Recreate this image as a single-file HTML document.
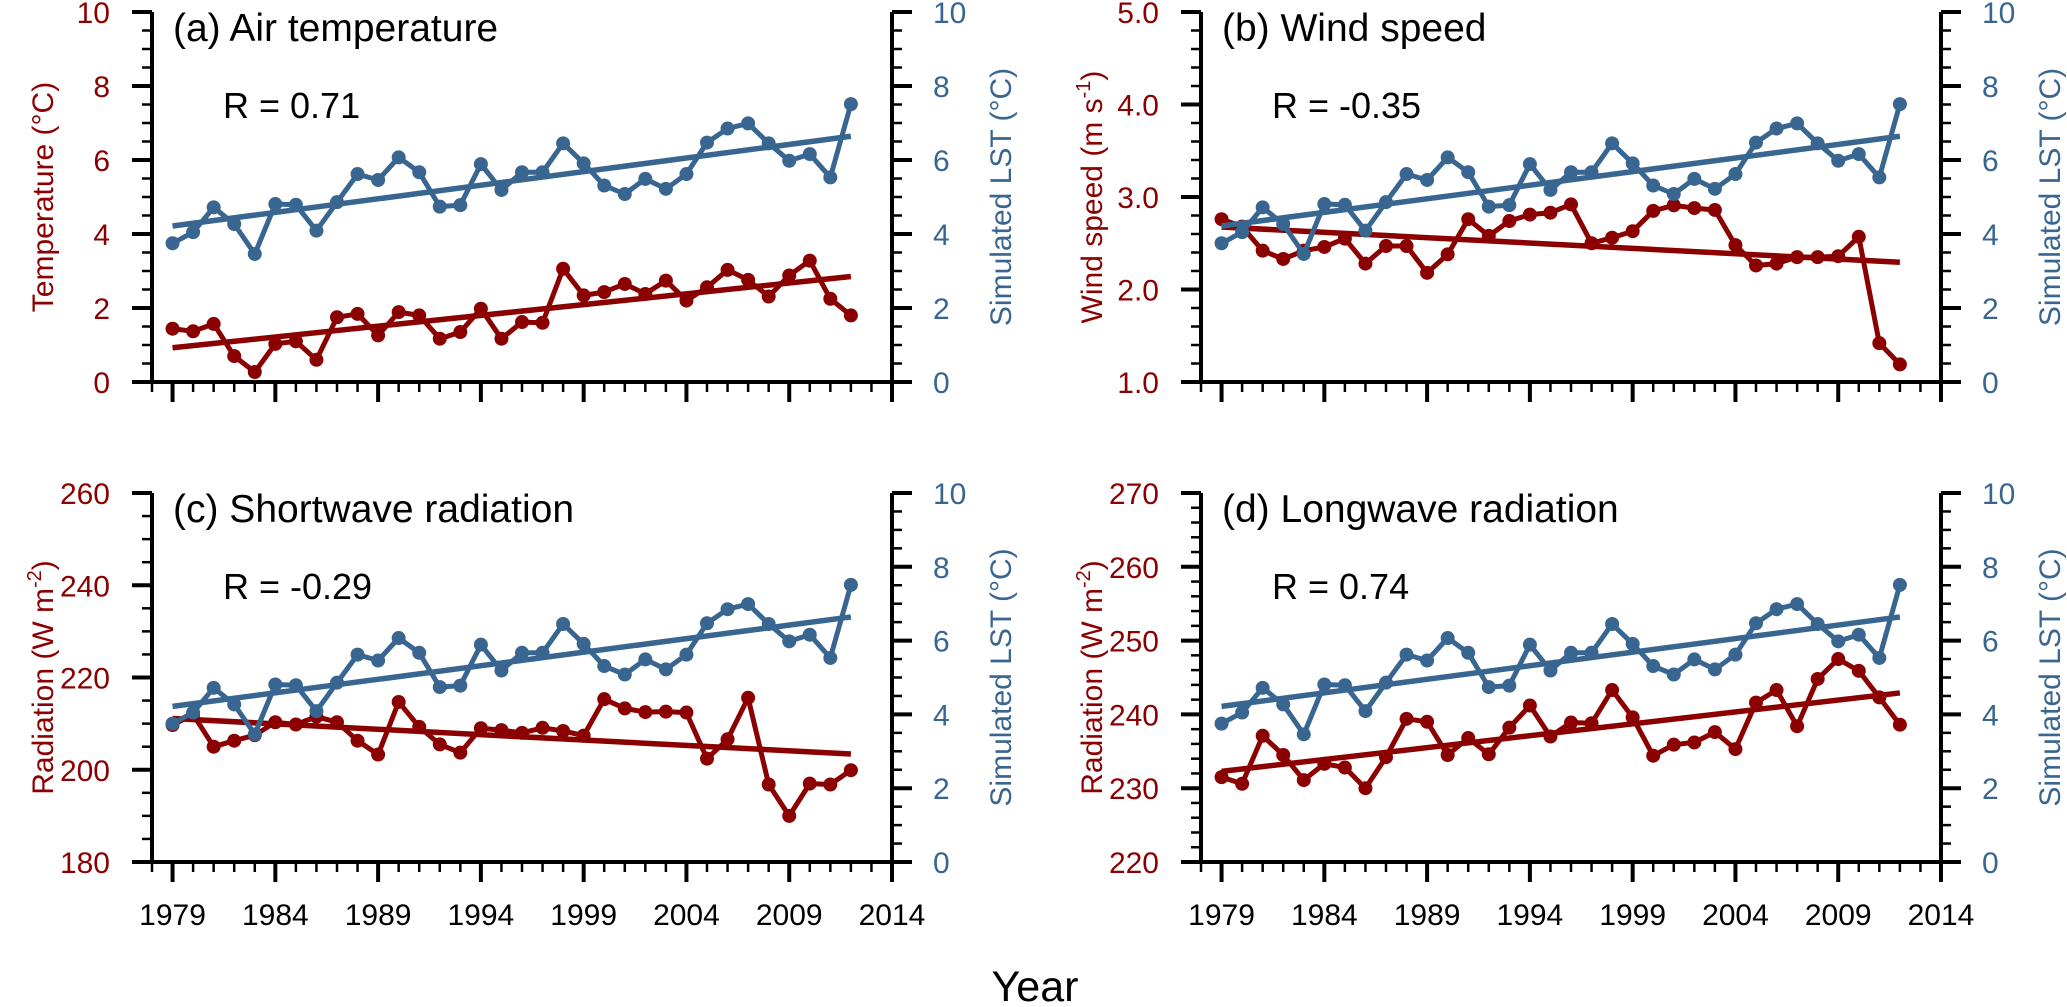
<!DOCTYPE html>
<html><head><meta charset="utf-8"><style>
html,body{margin:0;padding:0;background:#fff}
svg{display:block}
text{font-family:"Liberation Sans",sans-serif}
</style></head><body>
<svg id="fig" width="2067" height="1007" viewBox="0 0 2067 1007" xmlns="http://www.w3.org/2000/svg"></svg>
<script>
const years = [1979,1980,1981,1982,1983,1984,1985,1986,1987,1988,1989,1990,1991,1992,1993,1994,1995,1996,1997,1998,1999,2000,2001,2002,2003,2004,2005,2006,2007,2008,2009,2010,2011,2012];
const lstValues = [3.75,4.05,4.72,4.27,3.46,4.81,4.79,4.09,4.86,5.62,5.46,6.07,5.67,4.74,4.78,5.89,5.19,5.67,5.67,6.45,5.91,5.31,5.08,5.49,5.22,5.62,6.47,6.85,6.99,6.45,5.98,6.16,5.53,7.51];
const tempValues = [1.44,1.37,1.57,0.7,0.27,1.03,1.1,0.6,1.75,1.84,1.26,1.89,1.8,1.17,1.35,1.98,1.17,1.62,1.6,3.06,2.34,2.43,2.65,2.38,2.74,2.2,2.56,3.03,2.76,2.31,2.88,3.28,2.25,1.8];
const windValues = [2.76,2.68,2.42,2.33,2.42,2.46,2.55,2.28,2.47,2.47,2.18,2.38,2.76,2.58,2.74,2.81,2.83,2.92,2.5,2.56,2.63,2.85,2.91,2.88,2.86,2.48,2.26,2.28,2.35,2.35,2.36,2.57,1.42,1.19];
const swValues = [209.7,212,205,206.3,207.5,210.3,209.8,211.5,210.3,206.3,203.3,214.7,209.3,205.5,203.7,209,208.6,208,209.1,208.4,207.4,215.3,213.3,212.5,212.6,212.4,202.4,206.6,215.6,196.8,190,197,196.8,199.9];
const lwValues = [231.5,230.6,237.1,234.5,231.1,233.3,232.8,230,234.2,239.4,239,234.5,236.8,234.6,238.2,241.2,237,238.9,238.8,243.3,239.6,234.4,235.9,236.2,237.6,235.3,241.6,243.3,238.4,244.8,247.5,245.9,242.3,238.6];
const xTickLabels = ["1979","1984","1989","1994","1999","2004","2009","2014"];
const lstTickLabels = ["0","2","4","6","8","10"];
const tempTickLabels = ["0","2","4","6","8","10"];
const windTickLabels = ["1.0","2.0","3.0","4.0","5.0"];
const swTickLabels = ["180","200","220","240","260"];
const lwTickLabels = ["220","230","240","250","260","270"];
const rValues = ["0.71","-0.35","-0.29","0.74"];

const RED = "#8b0000", BLUE = "#386690";
const NS = "http://www.w3.org/2000/svg";
const svg = document.getElementById('fig');
function el(tag, attrs, parent){const e=document.createElementNS(NS,tag);for(const k in attrs)e.setAttribute(k,attrs[k]);(parent||svg).appendChild(e);return e;}
function txt(s, attrs, parent){const e=el('text',attrs,parent);e.textContent=s;return e;}
function fit(xs, ys){const n=xs.length;let mx=0,my=0;for(let i=0;i<n;i++){mx+=xs[i];my+=ys[i];}mx/=n;my/=n;let sxy=0,sxx=0;for(let i=0;i<n;i++){sxy+=(xs[i]-mx)*(ys[i]-my);sxx+=(xs[i]-mx)**2;}const b=sxy/sxx;return x=>my+b*(x-mx);}

const panels = [
 {id:'a',title:'(a) Air temperature',L:152,R:892,T:12,B:382,vals:tempValues,ticks:tempTickLabels,ymin:0,ymax:10,minor:0.5,ylab:['Temperature (°C)'],r:rValues[0],xlab:false},
 {id:'b',title:'(b) Wind speed',L:1201,R:1941,T:12,B:382,vals:windValues,ticks:windTickLabels,ymin:1,ymax:5,minor:0.2,ylab:['Wind speed (m s','-1',')'],r:rValues[1],xlab:false},
 {id:'c',title:'(c) Shortwave radiation',L:152,R:892,T:493,B:862,vals:swValues,ticks:swTickLabels,ymin:180,ymax:260,minor:5,ylab:['Radiation (W m','-2',')'],r:rValues[2],xlab:true},
 {id:'d',title:'(d) Longwave radiation',L:1201,R:1941,T:493,B:862,vals:lwValues,ticks:lwTickLabels,ymin:220,ymax:270,minor:2,ylab:['Radiation (W m','-2',')'],r:rValues[3],xlab:true},
];

panels.forEach(p=>{
  const g=el('g',{});
  
  
  const xs=y=>p.L+(y-1978)/(2014-1978)*(p.R-p.L);
  const yl=v=>p.B-(v-p.ymin)/(p.ymax-p.ymin)*(p.B-p.T);
  const yr=v=>p.B-(v-0)/(10-0)*(p.B-p.T);
  const fr=el('path',{d:`M${p.L},${p.T} L${p.L},${p.B} L${p.R},${p.B} L${p.R},${p.T}`,fill:'none',stroke:'#000','stroke-width':4},g);
  
  
  for(let y=1978;y<=2014;y++){
    const major=(y-1979)%5===0;
    const x=xs(y);
    el('line',{x1:x,y1:p.B,x2:x,y2:p.B+(major?20:10),stroke:'#000','stroke-width':major?4:2.5},g);
  }
  if(p.xlab){
    xTickLabels.forEach(s=>{
      const t=txt(s,{x:xs(+s),y:925,'text-anchor':'middle','font-size':30,fill:'#000'},g);
      
      
    });
  }
  for(let v=p.ymin;v<=p.ymax+1e-9;v+=p.minor){
    const y=yl(v);
    const isMajor=p.ticks.some(s=>Math.abs(+s-v)<1e-6);
    el('line',{x1:p.L-(isMajor?20:10),y1:y,x2:p.L,y2:y,stroke:'#000','stroke-width':isMajor?4:2.5},g);
  }
  p.ticks.forEach(s=>{
    const t=txt(s,{x:p.L-42,y:yl(+s)+11,'text-anchor':'end','font-size':30,fill:RED},g);
    
    
  });
  for(let v=0;v<=10+1e-9;v+=0.5){
    const y=yr(v);
    const isMajor=Math.abs(v/2-Math.round(v/2))<1e-6;
    el('line',{x1:p.R,y1:y,x2:p.R+(isMajor?20:10),y2:y,stroke:'#000','stroke-width':isMajor?4:2.5},g);
  }
  lstTickLabels.forEach(s=>{
    const t=txt(s,{x:p.R+41,y:yr(+s)+11,'text-anchor':'start','font-size':30,fill:BLUE},g);
    
    
  });
  const cy=(p.T+p.B)/2;
  const lx=p.L-99;
  const lt=el('text',{x:0,y:0,transform:`translate(${lx},${cy}) rotate(-90)`,'text-anchor':'middle','font-size':30,fill:RED},g);
  
  
  if(p.ylab.length===1){lt.textContent=p.ylab[0];}
  else{
    const a=el('tspan',{},lt);a.textContent=p.ylab[0];
    const b=el('tspan',{dy:-12,'font-size':20},lt);b.textContent=p.ylab[1];
    const c=el('tspan',{dy:12},lt);c.textContent=p.ylab[2];
  }
  const rt=txt('Simulated LST (°C)',{x:0,y:0,transform:`translate(${p.R+119},${cy}) rotate(-90)`,'text-anchor':'middle','font-size':30,fill:BLUE},g);
  
  
  const tt=txt(p.title,{x:p.L+21,y:p.T+29,'font-size':39,fill:'#000'},g);
  
  
  const rr=txt('R = '+p.r,{x:p.L+71,y:p.T+106,'font-size':36,fill:'#000'},g);
  
  
  function series(vals,ys,color,name){
    const pts=years.map((y,i)=>xs(y).toFixed(1)+','+ys(vals[i]).toFixed(1)).join(' ');
    const f=fit(years,vals);
    const tl=el('line',{x1:xs(years[0]),y1:ys(f(years[0])),x2:xs(years[years.length-1]),y2:ys(f(years[years.length-1])),stroke:color,'stroke-width':5.5},g);
    
    
    const pl=el('polyline',{points:pts,fill:'none',stroke:color,'stroke-width':5,'stroke-linejoin':'round'},g);
    
    
    years.forEach((y,i)=>{
      const c=el('circle',{cx:xs(y),cy:ys(vals[i]),r:7,fill:color},g);
      
      
    });
  }
  series(p.vals,yl,RED,'forcing');
  series(lstValues,yr,BLUE,'simulated-lst');
});
const yt=txt('Year',{x:1035,y:1001,'text-anchor':'middle','font-size':43,fill:'#000'});


</script>
</body></html>
